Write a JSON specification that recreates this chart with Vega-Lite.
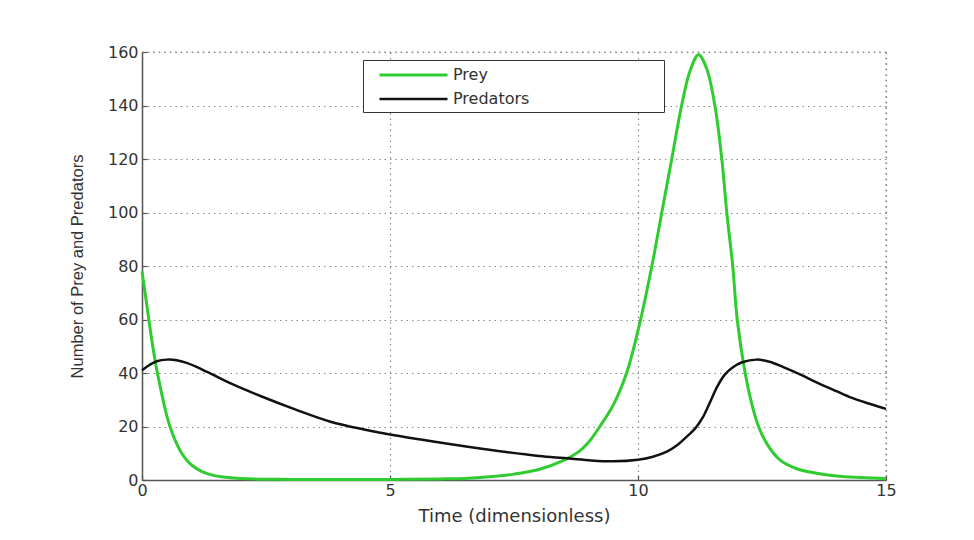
{
  "$schema": "https://vega.github.io/schema/vega-lite/v6.json",
  "autosize": "none",
  "width": 744,
  "height": 428,
  "padding": {"left": 142, "top": 52, "right": 88, "bottom": 60},
  "background": "white",
  "config": {
    "font": "DejaVu Sans",
    "view": {"stroke": null},
    "axis": {
      "domainColor": "#555555",
      "domainWidth": 1.5,
      "tickColor": "#555555",
      "tickSize": -5,
      "tickWidth": 1.2,
      "labelFont": "DejaVu Sans",
      "labelFontSize": 16,
      "labelColor": "#333333",
      "labelFlush": false,
      "titleColor": "#333333",
      "titleFontWeight": "normal",
      "gridColor": "#8a8a8a",
      "gridDash": [1.5, 4],
      "gridWidth": 1.2,
      "gridOpacity": 1
    }
  },
  "data": {
    "values": [
      {"t": 0, "v": 78, "s": "Prey"},
      {"t": 0.1, "v": 65, "s": "Prey"},
      {"t": 0.2, "v": 52, "s": "Prey"},
      {"t": 0.3, "v": 41, "s": "Prey"},
      {"t": 0.4, "v": 32, "s": "Prey"},
      {"t": 0.5, "v": 24, "s": "Prey"},
      {"t": 0.6, "v": 18, "s": "Prey"},
      {"t": 0.7, "v": 13.5, "s": "Prey"},
      {"t": 0.8, "v": 10, "s": "Prey"},
      {"t": 0.9, "v": 7.5, "s": "Prey"},
      {"t": 1.0, "v": 5.6, "s": "Prey"},
      {"t": 1.2, "v": 3.2, "s": "Prey"},
      {"t": 1.4, "v": 1.9, "s": "Prey"},
      {"t": 1.6, "v": 1.2, "s": "Prey"},
      {"t": 1.8, "v": 0.8, "s": "Prey"},
      {"t": 2.0, "v": 0.55, "s": "Prey"},
      {"t": 2.5, "v": 0.3, "s": "Prey"},
      {"t": 3.0, "v": 0.2, "s": "Prey"},
      {"t": 4.0, "v": 0.15, "s": "Prey"},
      {"t": 5.0, "v": 0.2, "s": "Prey"},
      {"t": 6.0, "v": 0.4, "s": "Prey"},
      {"t": 6.5, "v": 0.6, "s": "Prey"},
      {"t": 7.0, "v": 1.2, "s": "Prey"},
      {"t": 7.5, "v": 2.2, "s": "Prey"},
      {"t": 8.0, "v": 3.9, "s": "Prey"},
      {"t": 8.5, "v": 7.3, "s": "Prey"},
      {"t": 8.8, "v": 10.5, "s": "Prey"},
      {"t": 9.0, "v": 14, "s": "Prey"},
      {"t": 9.23, "v": 20, "s": "Prey"},
      {"t": 9.5, "v": 28, "s": "Prey"},
      {"t": 9.77, "v": 40, "s": "Prey"},
      {"t": 10.04, "v": 59, "s": "Prey"},
      {"t": 10.28, "v": 80, "s": "Prey"},
      {"t": 10.48, "v": 100, "s": "Prey"},
      {"t": 10.68, "v": 120, "s": "Prey"},
      {"t": 10.88, "v": 140, "s": "Prey"},
      {"t": 11.05, "v": 153, "s": "Prey"},
      {"t": 11.22, "v": 159, "s": "Prey"},
      {"t": 11.38, "v": 154, "s": "Prey"},
      {"t": 11.55, "v": 140, "s": "Prey"},
      {"t": 11.69, "v": 120, "s": "Prey"},
      {"t": 11.79, "v": 100, "s": "Prey"},
      {"t": 11.91, "v": 80, "s": "Prey"},
      {"t": 12.0, "v": 60, "s": "Prey"},
      {"t": 12.16, "v": 40, "s": "Prey"},
      {"t": 12.3, "v": 28, "s": "Prey"},
      {"t": 12.43, "v": 20, "s": "Prey"},
      {"t": 12.6, "v": 13.5, "s": "Prey"},
      {"t": 12.86, "v": 7.5, "s": "Prey"},
      {"t": 13.2, "v": 4.2, "s": "Prey"},
      {"t": 13.6, "v": 2.5, "s": "Prey"},
      {"t": 14.0, "v": 1.5, "s": "Prey"},
      {"t": 14.5, "v": 0.9, "s": "Prey"},
      {"t": 15.0, "v": 0.5, "s": "Prey"},
      {"t": 0, "v": 41, "s": "Predators"},
      {"t": 0.15, "v": 43, "s": "Predators"},
      {"t": 0.3, "v": 44.4, "s": "Predators"},
      {"t": 0.5, "v": 45, "s": "Predators"},
      {"t": 0.7, "v": 44.8, "s": "Predators"},
      {"t": 0.9, "v": 43.8, "s": "Predators"},
      {"t": 1.1, "v": 42.3, "s": "Predators"},
      {"t": 1.3, "v": 40.5, "s": "Predators"},
      {"t": 1.5, "v": 38.7, "s": "Predators"},
      {"t": 1.8, "v": 36, "s": "Predators"},
      {"t": 2.4, "v": 31.3, "s": "Predators"},
      {"t": 3.1, "v": 26.3, "s": "Predators"},
      {"t": 3.8, "v": 21.8, "s": "Predators"},
      {"t": 4.5, "v": 18.8, "s": "Predators"},
      {"t": 5.0, "v": 17, "s": "Predators"},
      {"t": 6.0, "v": 14, "s": "Predators"},
      {"t": 7.0, "v": 11.3, "s": "Predators"},
      {"t": 8.0, "v": 9, "s": "Predators"},
      {"t": 8.5, "v": 8.2, "s": "Predators"},
      {"t": 9.0, "v": 7.4, "s": "Predators"},
      {"t": 9.5, "v": 7.0, "s": "Predators"},
      {"t": 10.0, "v": 7.6, "s": "Predators"},
      {"t": 10.3, "v": 8.7, "s": "Predators"},
      {"t": 10.58, "v": 10.6, "s": "Predators"},
      {"t": 10.8, "v": 13.2, "s": "Predators"},
      {"t": 11.0, "v": 16.5, "s": "Predators"},
      {"t": 11.15, "v": 19.2, "s": "Predators"},
      {"t": 11.3, "v": 23.2, "s": "Predators"},
      {"t": 11.45, "v": 29, "s": "Predators"},
      {"t": 11.6, "v": 35, "s": "Predators"},
      {"t": 11.75, "v": 39.4, "s": "Predators"},
      {"t": 11.9, "v": 42, "s": "Predators"},
      {"t": 12.1, "v": 44, "s": "Predators"},
      {"t": 12.39, "v": 45, "s": "Predators"},
      {"t": 12.65, "v": 44.2, "s": "Predators"},
      {"t": 12.93, "v": 42.2, "s": "Predators"},
      {"t": 13.3, "v": 39.2, "s": "Predators"},
      {"t": 13.6, "v": 36.5, "s": "Predators"},
      {"t": 14.0, "v": 33.2, "s": "Predators"},
      {"t": 14.3, "v": 30.8, "s": "Predators"},
      {"t": 14.65, "v": 28.6, "s": "Predators"},
      {"t": 15.0, "v": 26.6, "s": "Predators"}
    ]
  },
  "layer": [
    {
      "mark": {"type": "rule", "strokeDash": [1.5, 4], "color": "#8a8a8a", "strokeWidth": 1.2},
      "data": {"values": [{"v": 160}]},
      "encoding": {"y": {"field": "v", "type": "quantitative", "scale": {"domain": [0, 160]}}}
    },
    {
      "mark": {"type": "rule", "strokeDash": [1.5, 4], "color": "#8a8a8a", "strokeWidth": 1.2},
      "data": {"values": [{"t": 15}]},
      "encoding": {"x": {"field": "t", "type": "quantitative", "scale": {"domain": [0, 15]}}}
    },
    {
      "mark": {"type": "line", "interpolate": "catmull-rom"},
      "encoding": {
        "x": {
          "field": "t",
          "type": "quantitative",
          "scale": {"domain": [0, 15], "nice": false},
          "axis": {"values": [0, 5, 10, 15], "title": "Time (dimensionless)", "titleFont": "DejaVu Sans", "titleFontSize": 18, "labelPadding": 7, "titlePadding": 9, "grid": true}
        },
        "y": {
          "field": "v",
          "type": "quantitative",
          "scale": {"domain": [0, 160], "nice": false},
          "axis": {"values": [0, 20, 40, 60, 80, 100, 120, 140, 160], "title": "Number of Prey and Predators", "titleFont": "Liberation Sans", "titleFontSize": 16.5, "labelPadding": 9, "titlePadding": 22, "grid": true}
        },
        "color": {
          "field": "s",
          "type": "nominal",
          "sort": ["Prey", "Predators"],
          "scale": {"domain": ["Prey", "Predators"], "range": ["#2fcc2f", "#111111"]},
          "legend": {
            "title": null,
            "orient": "none",
            "legendX": 221,
            "legendY": 8,
            "symbolType": "M-4,0H4",
            "symbolSize": 289,
            "symbolStrokeWidth": 2.5,
            "symbolOffset": 35.5,
            "labelFont": "DejaVu Sans",
            "labelFontSize": 16,
            "labelColor": "#333333",
            "labelOffset": 29.5,
            "labelLimit": 500,
            "rowPadding": 6,
            "padding": 5,
            "strokeColor": "#333333",
            "fillColor": "white",
            "labelExpr": "datum.label + '\u2800\u2800\u2800\u2800\u2800\u2800\u2800\u2800\u2800\u2800\u2800'"
          }
        },
        "strokeWidth": {
          "field": "s",
          "type": "nominal",
          "scale": {"domain": ["Prey", "Predators"], "range": [3, 2.5]},
          "legend": null
        }
      }
    }
  ]
}
